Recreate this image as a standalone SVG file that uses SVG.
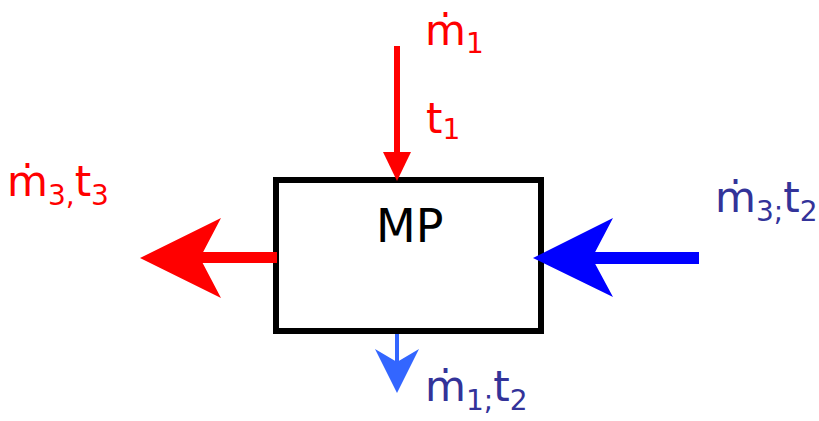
<svg xmlns="http://www.w3.org/2000/svg" width="819" height="421" viewBox="0 0 819 421">
<style>
  text { font-family: "DejaVu Sans", Verdana, sans-serif; }
  .lbl { font-size: 42px; }
  .sub { font-size: 28px; }
  .red { fill: #FF0000; }
  .navy { fill: #333399; }
</style>
<rect width="819" height="421" fill="#FFFFFF"/>
<g id="mp">
  <rect x="276" y="180" width="265" height="151" fill="#FFFFFF" stroke="#000000" stroke-width="6"/>
  <text x="376" y="242" font-size="46" fill="#000000">MP</text>
</g>
<g id="connectors">
  <g id="in-top">
    <line x1="397" y1="46" x2="397" y2="156" stroke="#FF0000" stroke-width="6"/>
    <polygon points="383,152 411,152 397,181" fill="#FF0000"/>
  </g>
  <g id="out-left">
    <line x1="198" y1="257.5" x2="277" y2="257.5" stroke="#FF0000" stroke-width="11"/>
    <polygon points="140,258 221,218 200,258 221,298" fill="#FF0000"/>
  </g>
  <g id="in-right">
    <line x1="590" y1="258" x2="699" y2="258" stroke="#0000FF" stroke-width="12"/>
    <polygon points="533,258 613,218 592,258 613,297" fill="#0000FF"/>
  </g>
  <g id="out-bottom">
    <line x1="397" y1="334" x2="397" y2="366" stroke="#3366FF" stroke-width="4"/>
    <polygon points="397,393 375,349 397,362 419,349" fill="#3366FF"/>
  </g>
</g>
<g id="labels">
  <text class="lbl red" x="425" y="45">ṁ<tspan class="sub" dy="8">1</tspan></text>
  <text class="lbl red" x="426" y="133">t<tspan class="sub" dy="6">1</tspan></text>
  <text class="lbl red" x="7" y="196">ṁ<tspan class="sub" dy="9">3,</tspan><tspan dy="-9">t</tspan><tspan class="sub" dy="9">3</tspan></text>
  <text class="lbl navy" x="715" y="212">ṁ<tspan class="sub" dy="9">3;</tspan><tspan dy="-9">t</tspan><tspan class="sub" dy="9">2</tspan></text>
  <text class="lbl navy" x="425" y="401">ṁ<tspan class="sub" dy="9">1;</tspan><tspan dy="-9">t</tspan><tspan class="sub" dy="9">2</tspan></text>
</g>
</svg>
